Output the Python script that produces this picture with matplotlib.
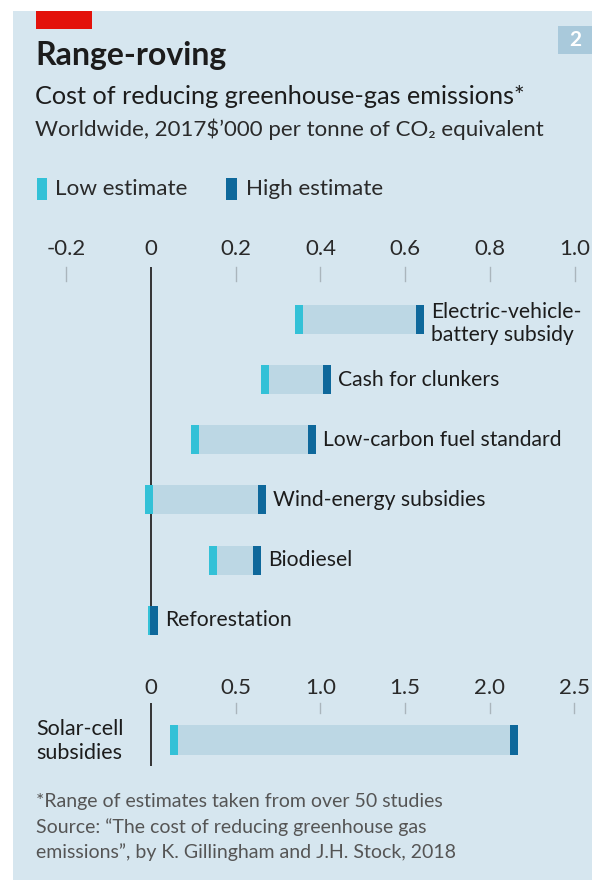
import matplotlib
matplotlib.use("Agg")
import matplotlib.pyplot as plt

# ---- data ----
categories = ["Electric-vehicle-\nbattery subsidy", "Cash for clunkers", "Low-carbon fuel standard",
              "Wind-energy subsidies", "Biodiesel", "Reforestation"]
low_vals = [0.34, 0.26, 0.095, -0.015, 0.137, -0.008]
high_vals = [0.645, 0.425, 0.39, 0.272, 0.26, 0.017]
top_ticks = [-0.2, 0, 0.2, 0.4, 0.6, 0.8, 1.0]
top_ticklabels = ["-0.2", "0", "0.2", "0.4", "0.6", "0.8", "1.0"]

solar_label = "Solar-cell\nsubsidies"
solar_low = 0.115
solar_high = 2.17
bot_ticks = [0, 0.5, 1.0, 1.5, 2.0, 2.5]
bot_ticklabels = ["0", "0.5", "1.0", "1.5", "2.0", "2.5"]

# ---- style ----
W, H = 592, 880
BG = "#d6e6ef"
BARC = "#bcd7e4"
LOWC = "#33c1d7"
HIGHC = "#0e689b"
TXT = "#1c1c1c"
GREY = "#555555"
FONT = ["Lato", "DejaVu Sans"]
plt.rcParams['font.family'] = FONT

fig = plt.figure(figsize=(W / 100, H / 100), dpi=100)
fig.patch.set_facecolor("white")


def fx(x):
    return x / W


def fy(y):
    return 1 - y / H


# background panel
fig.patches.append(plt.Rectangle((fx(13), 0), 1 - fx(13), fy(11), transform=fig.transFigure,
                                  facecolor=BG, edgecolor="none", zorder=-5))
# red tag
fig.patches.append(plt.Rectangle((fx(36), fy(29)), fx(92) - fx(36), fy(11) - fy(29),
                                  transform=fig.transFigure, facecolor="#e3120b", edgecolor="none", zorder=-4))
# chart number box
fig.patches.append(plt.Rectangle((fx(558), fy(54)), 1 - fx(558), fy(26) - fy(54),
                                  transform=fig.transFigure, facecolor="#a9c9db", edgecolor="none", zorder=-4))
fig.text(fx(575), fy(40), "2", color="white", fontsize=15, fontweight="bold", ha="center", va="center")

fig.text(fx(35), fy(56), "Range-roving", fontsize=23, fontweight="bold", color=TXT, ha="left", va="center")
fig.text(fx(35), fy(96), "Cost of reducing greenhouse-gas emissions*", fontsize=18.2, color=TXT,
         ha="left", va="center")
fig.text(fx(35), fy(129), "Worldwide, 2017$\u2019000 per tonne of CO\u2082 equivalent", fontsize=16,
         color="#2a2a2a", ha="left", va="center")

# legend
fig.patches.append(plt.Rectangle((fx(37), fy(200)), fx(47) - fx(37), fy(178) - fy(200),
                                  transform=fig.transFigure, facecolor=LOWC, edgecolor="none", zorder=-3))
fig.text(fx(55), fy(189), "Low estimate", fontsize=16.2, color="#2a2a2a", ha="left", va="center")
fig.patches.append(plt.Rectangle((fx(226), fy(200)), fx(237) - fx(226), fy(178) - fy(200),
                                  transform=fig.transFigure, facecolor=HIGHC, edgecolor="none", zorder=-3))
fig.text(fx(246), fy(189), "High estimate", fontsize=16.2, color="#2a2a2a", ha="left", va="center")

# ---- top axes ----
ax_l, ax_r, ax_t, ax_b = 30, 592, 230, 650
ax = fig.add_axes([fx(ax_l), fy(ax_b), fx(ax_r) - fx(ax_l), fy(ax_t) - fy(ax_b)])
ax.set_zorder(5)
ax.set_facecolor("none")
scale = 423.5  # px per unit
zero_px = 151
ax.set_xlim((ax_l - zero_px) / scale, (ax_r - zero_px) / scale)
step = 60.0
c0 = 320
ax.set_ylim((ax_b - c0) / step, (ax_t - c0) / step)
for s in ax.spines.values():
    s.set_visible(False)
ax.set_xticks([])
ax.set_yticks([])

bh = 29 / step
capw = 8 / scale
ys = list(range(len(categories)))
ax.barh(ys, [h - l for l, h in zip(low_vals, high_vals)], left=low_vals, height=bh, color=BARC, zorder=2)
ax.barh(ys, [capw] * len(ys), left=low_vals, height=bh, color=LOWC, zorder=3)
ax.barh(ys, [capw] * len(ys), left=[h - capw for h in high_vals], height=bh, color=HIGHC, zorder=4)
for y, h, lab in zip(ys, high_vals, categories):
    ax.text(h + 7 / scale, y + (0.06 if "\n" in lab else 0), lab, fontsize=15.2, color=TXT,
            ha="left", va="center", linespacing=1.22, zorder=5)

# zero line and ticks
ax.plot([0, 0], [(267 - c0) / step, (633 - c0) / step], color="#333333", lw=1.4, zorder=1,
        solid_capstyle="butt")
for t, tl in zip(top_ticks, top_ticklabels):
    if t != 0:
        ax.plot([t, t], [(267 - c0) / step, (281 - c0) / step], color="#aab5bc", lw=1.0, zorder=1)
    ax.text(t, (249 - c0) / step, tl, fontsize=16, color="#2a2a2a", ha="center", va="center")

# ---- bottom axes ----
b_l, b_r, b_t, b_b = 30, 592, 670, 785
bx = fig.add_axes([fx(b_l), fy(b_b), fx(b_r) - fx(b_l), fy(b_t) - fy(b_b)])
bx.set_zorder(5)
bx.set_facecolor("none")
bscale = 169.3
bx.set_xlim((b_l - zero_px) / bscale, (b_r - zero_px) / bscale)
bc = 740
bx.set_ylim(b_b - bc, b_t - bc)  # pixel offsets, inverted
for s in bx.spines.values():
    s.set_visible(False)
bx.set_xticks([])
bx.set_yticks([])
bbh = 30
bcap = 8 / bscale
bx.barh([0], [solar_high - solar_low], left=[solar_low], height=bbh, color=BARC, zorder=2)
bx.barh([0], [bcap], left=[solar_low], height=bbh, color=LOWC, zorder=3)
bx.barh([0], [bcap], left=[solar_high - bcap], height=bbh, color=HIGHC, zorder=4)
bx.plot([0, 0], [703 - bc, 766 - bc], color="#333333", lw=1.4, solid_capstyle="butt")
for t, tl in zip(bot_ticks, bot_ticklabels):
    if t != 0:
        bx.plot([t, t], [703 - bc, 713 - bc], color="#aab5bc", lw=1.0)
    bx.text(t, 688 - bc, tl, fontsize=16, color="#2a2a2a", ha="center", va="center")

fig.text(fx(36), fy(741), solar_label, fontsize=15.5, color=TXT, ha="left", va="center", linespacing=1.2)

# footnotes
fig.text(fx(36), fy(801), "*Range of estimates taken from over 50 studies", fontsize=14, color=GREY,
         ha="left", va="center")
fig.text(fx(36), fy(827), "Source: \u201cThe cost of reducing greenhouse gas", fontsize=14, color=GREY,
         ha="left", va="center")
fig.text(fx(36), fy(852), "emissions\u201d, by K. Gillingham and J.H. Stock, 2018", fontsize=14, color=GREY,
         ha="left", va="center")

fig.savefig("out.png", dpi=100, facecolor=fig.get_facecolor())
